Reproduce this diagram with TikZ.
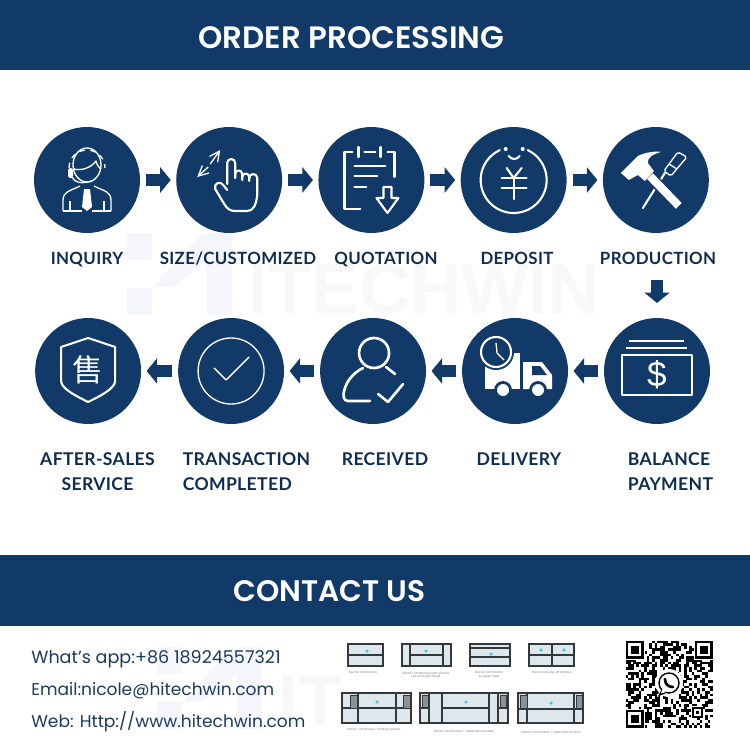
\documentclass[tikz,border=0pt]{standalone}
\usepackage{fontspec}
\setmainfont{Poppins}
\newfontfamily\etqfont[LetterSpace=2]{Lato}
\newfontfamily\titlefont{Poppins SemiBold}
\newfontfamily\cjkfont{Noto Sans CJK SC}
\newfontfamily\marcafont{Liberation Sans}
\usetikzlibrary{positioning,arrows.meta,calc}
\definecolor{cazul}{HTML}{123A68}
\definecolor{cnavy}{HTML}{0F2D50}
\definecolor{ctexto}{HTML}{1B3A5E}
\definecolor{cmarca}{HTML}{F4F6FB}
\definecolor{cmarcat}{HTML}{F8F8F9}
\definecolor{cvidrio}{HTML}{DDE7EC}
\definecolor{cmarco}{HTML}{33383D}
\definecolor{cpanel}{HTML}{8C9196}
\definecolor{ccian}{HTML}{45C8DC}
\definecolor{cpie}{HTML}{7A7F85}
\tikzset{
  banda/.style={rectangle, fill=cazul, inner sep=0pt, minimum width=15cm, anchor=north west},
  titulo/.style={text=white, inner sep=0pt, font=\titlefont\fontsize{17.6}{20}\selectfont},
  paso/.style={circle, fill=cazul, inner sep=0pt, outer sep=0pt, minimum size=2.12cm},
  etq/.style={inner sep=0pt, text=cnavy, align=center, font=\etqfont\bfseries\fontsize{9.6}{14.2}\selectfont,
    text height=7pt, text depth=0pt},
  etqb/.style={inner sep=0pt, text=cnavy, align=center, font=\etqfont\bfseries\fontsize{10}{14.2}\selectfont},
  flecha/.style={-{Triangle[length=0.21cm,width=0.5cm]}, line width=0.24cm, draw=cazul,
    shorten <=0.12cm, shorten >=0.11cm},
  contacto/.style={inner sep=0pt, anchor=west, text=ctexto, font=\fontsize{9.7}{12}\selectfont},
  icono/.style={draw=white, line width=1.2pt, line cap=round, line join=round},
  iconof/.style={draw=white, line width=0.75pt, line join=round},
  vent/.style={draw=cmarco, fill=cvidrio, line width=0.7pt},
  barra/.style={draw=cmarco, line width=0.7pt},
  panel/.style={draw=cmarco, fill=cpanel, line width=0.4pt},
  punto/.style={circle, fill=ccian, inner sep=0pt, minimum size=2pt},
  pie/.style={inner sep=0pt, text=cpie, align=center, font=\fontsize{1.7}{2.2}\selectfont},
  marca/.style={fill=cmarca},
}
\newcommand{\qrfinder}[2]{
  \fill[white] (#1-1,#2-1) rectangle ++(20.5,20.5);
  \fill[black] (#1,#2) rectangle ++(18.5,18.5);
  \fill[white] (#1+2.65,#2+2.65) rectangle ++(13.2,13.2);
  \fill[black] (#1+5.3,#2+5.3) rectangle ++(7.9,7.9);
}
\newcommand{\marcalogo}[2]{
  \fill[marca] (#1,#2) rectangle ++(25,27);
  \fill[marca] (#1,#2+55) rectangle ++(25,27);
  \fill[marca] (#1+80,#2) rectangle ++(25,82);
  \fill[marca] (#1+26,#2+54) -- (#1+73,#2+2) -- (#1+80,#2+2) -- (#1+80,#2+27) -- (#1+46,#2+54) -- cycle;
}
\begin{document}
\begin{tikzpicture}[x=0.02cm,y=-0.02cm]
  \useasboundingbox (0,0) rectangle (750,750);
  \marcalogo{127}{233}
  \node[inner sep=0pt, anchor=west, text=cmarcat, font=\marcafont\bfseries\fontsize{40.5}{41}\selectfont] (wm) at (248,289) {ITECHWIN};
  \marcalogo{157}{647}
  \node[inner sep=0pt, anchor=west, text=cmarcat, font=\marcafont\bfseries\fontsize{40.5}{41}\selectfont] (wmb) at (278,701) {IT};

  \node[banda, minimum height=1.4cm] (bandasup) at (0,0) {};
  \node[banda, minimum height=1.42cm] (bandainf) at (0,555) {};
  \node[titulo] (orden) at (351.5,38) {ORDER PROCESSING};
  \node[titulo, font=\titlefont\fontsize{16.9}{20}\selectfont] (contacto) at (329.5,591) {CONTACT US};

  \node[paso] (inquiry) at (87,180) {};
  \node[paso, right=0.725cm of inquiry] (size) {};
  \node[paso, right=0.725cm of size] (quotation) {};
  \node[paso, right=0.725cm of quotation] (deposit) {};
  \node[paso, right=0.725cm of deposit] (production) {};
  \node[paso] (balance) at (657,371) {};
  \node[paso, left=0.72cm of balance] (delivery) {};
  \node[paso, left=0.72cm of delivery] (received) {};
  \node[paso, left=0.72cm of received] (completed) {};
  \node[paso, left=0.74cm of completed] (aftersales) {};

  \node[etq] (linquiry) at (87,258) {INQUIRY};
  \node[etq] (lsize) at (238,258) {SIZE/CUSTOMIZED};
  \node[etq] (lquotation) at (386,258) {QUOTATION};
  \node[etq] (ldeposit) at (517,258) {DEPOSIT};
  \node[etq] (lproduction) at (658,258) {PRODUCTION};
  \node[etqb] (laftersales) at (97.5,471.5) {AFTER-SALES\\SERVICE};
  \node[etqb, align=left] (lcompleted) at (246.5,471.5) {TRANSACTION\\COMPLETED};
  \node[etqb] (lreceived) at (385,459) {RECEIVED};
  \node[etqb] (ldelivery) at (519,459) {DELIVERY};
  \node[etqb, align=left] (lbalance) at (670.5,471.5) {BALANCE\\PAYMENT};

  \draw[flecha] (inquiry) -- (size);
  \draw[flecha] (size) -- (quotation);
  \draw[flecha] (quotation) -- (deposit);
  \draw[flecha] (deposit) -- (production);
  \draw[flecha, shorten <=0.3cm, shorten >=0.3cm] (lproduction.south -| balance.north) -- (balance.north);
  \draw[flecha] (balance) -- (delivery);
  \draw[flecha] (delivery) -- (received);
  \draw[flecha] (received) -- (completed);
  \draw[flecha] (completed) -- (aftersales);

  \begin{scope}[shift={(inquiry.center)}]
    \draw[iconof] (-24,31) -- (-24,20) .. controls (-24,11) and (-14,10) .. (-7,6);
    \draw[iconof] (24,31) -- (24,20) .. controls (24,11) and (14,10) .. (7,6);
    \draw[iconof] (-24,31) -- (-5,31);
    \draw[iconof] (24,31) -- (5,31);
    \draw[iconof] (0,-15) ellipse[x radius=14, y radius=17];
    \draw[iconof] (-13,-11) .. controls (-6,-9) and (4,-12) .. (9,-19) .. controls (10,-15) and (12,-12) .. (14,-11);
    \draw[iconof, dashed] (-18,-12) arc[start angle=180, end angle=360, radius=18];
    \fill[white, rounded corners=1pt] (-19,-12) rectangle (-14,-2);
    \draw[iconof] (-15,-3) .. controls (-12,3) and (-6,4) .. (5,1);
    \fill[white] (-3,9) -- (3,9) -- (5,27) -- (0,31) -- (-5,27) -- cycle;
    \draw[iconof] (-17,31) -- (-17,21);
    \draw[iconof] (17,31) -- (17,21);
  \end{scope}

  \begin{scope}[shift={(size.center)}]
    \draw[icono] (-2,4) -- (-2,-17) arc[start angle=180, end angle=360, radius=4] -- (6,-2);
    \draw[icono] (6,-6) arc[start angle=180, end angle=360, radius=3.5] -- (13,0);
    \draw[icono] (13,-3) arc[start angle=180, end angle=360, radius=3.5] -- (20,1);
    \draw[icono] (20,-2) arc[start angle=180, end angle=360, radius=4] -- (28,15) .. controls (27,25) and (24,31) .. (18,31) -- (6,31) .. controls (1,31) and (-2,29) .. (-5,24) -- (-14,9) .. controls (-16,4) and (-9,0) .. (-6,5) -- (-2,10);
    \draw[iconof, -{Straight Barb[length=2mm,width=2mm]}] (-19,-16) -- (-9,-30);
    \draw[iconof, -{Straight Barb[length=2mm,width=2mm]}] (-21,-13) -- (-32,-3);
  \end{scope}

  \begin{scope}[shift={(quotation.center)}]
    \draw[icono] (-19,-28) -- (-27,-28) -- (-27,29) -- (-11,29);
    \draw[icono] (16,-28) -- (23,-28) -- (23,-3);
    \draw[icono] (-13,-33) -- (-13,-23);
    \draw[icono] (9,-33) -- (9,-23);
    \draw[icono] (-7,-28) -- (4,-28);
    \draw[icono] (-17,-14) -- (14,-14);
    \draw[icono] (-17,-4) -- (6,-4);
    \draw[icono] (-17,7) -- (-5,7);
    \draw[icono] (12,7) -- (20,7) -- (20,18) -- (27,18) -- (16,33) -- (5,18) -- (12,18) -- cycle;
  \end{scope}

  \begin{scope}[shift={(deposit.center)}]
    \draw[icono] (-65:33) arc[start angle=-65, end angle=245, radius=33];
    \fill[white] (-8,-31) circle[radius=2];
    \fill[white] (9,-31) circle[radius=2];
    \draw[icono] (-5,-24) .. controls (-2,-20) and (3,-20) .. (6,-24);
    \draw[icono] (-7,-12) -- (0,-2) -- (8,-12);
    \draw[icono] (-12,-2) -- (13,-2);
    \draw[icono] (-12,8) -- (13,8);
    \draw[icono] (0,-2) -- (0,19);
  \end{scope}

  \begin{scope}[shift={(production.center)}]
    \draw[icono] (-13,28) -- (9,-7);
    \draw[iconof, rounded corners=1pt] (8,-9) -- (22,-28) -- (31,-23) -- (15,-4) -- cycle;
    \draw[iconof] (13,-16) -- (21,-11);
    \fill[white, draw=cazul, line width=0.8pt] (-10,-1) -- (-3,-8) -- (27,23) -- (20,30) -- cycle;
    \fill[white] (-35,-7) -- (-18,-24) .. controls (-10,-28) and (0,-29) .. (5,-28) .. controls (-3,-26) and (-9,-22) .. (-8,-17) -- (-2,-9) -- (-11,1) -- (-18,-5) -- (-27,0) -- cycle;
  \end{scope}

  \begin{scope}[shift={(balance.center)}]
    \draw[iconof] (-28,-30) -- (27,-30);
    \draw[iconof] (-31,-23) -- (30,-23);
    \draw[iconof] (-35,-16) rectangle (35,24);
    \node[text=white, inner sep=0pt, font=\marcafont\fontsize{20}{22}\selectfont] (dolar) at (0,4) {\$};
  \end{scope}

  \begin{scope}[shift={(delivery.center)}]
    \fill[white] (-30,-18) rectangle (5,18);
    \fill[white] (8,-9) -- (27,-9) -- (37,4) -- (37,18) -- (8,18) -- cycle;
    \fill[cazul] (17,-5) -- (25,-5) -- (32,4) -- (17,4) -- cycle;
    \fill[white, draw=cazul, line width=1.6pt] (-12,19) circle[radius=7.5];
    \fill[white, draw=cazul, line width=1.6pt] (23,19) circle[radius=7.5];
    \fill[cazul] (-19,-19) circle[radius=18];
    \draw[icono, fill=cazul] (-19,-19) circle[radius=15];
    \draw[iconof] (-19,-28) -- (-18,-18) -- (-11,-11);
  \end{scope}

  \begin{scope}[shift={(received.center)}]
    \draw[icono, line width=1.5pt] (1,-18) circle[radius=15];
    \draw[icono, line width=1.5pt] (-3,30) -- (-25,30) .. controls (-30,30) and (-30,24) .. (-29,20) .. controls (-26,8) and (-18,1) .. (-10,-3);
    \draw[icono, line width=1.5pt] (13,-4) -- (22,3);
    \draw[icono, line width=1.5pt] (5,23) -- (15,31) -- (30,13);
  \end{scope}

  \begin{scope}[shift={(completed.center)}]
    \draw[iconof] (0,0) circle[radius=33];
    \draw[iconof] (-17,-3) -- (-5,9) -- (18,-14);
  \end{scope}

  \begin{scope}[shift={(aftersales.center)}]
    \draw[icono] (0,-33) -- (27,-24) -- (27,10) .. controls (27,18) and (10,26) .. (0,31) .. controls (-10,26) and (-27,18) .. (-27,10) -- (-27,-24) -- cycle;
    \node[text=white, inner sep=0pt, font=\cjkfont\fontsize{17.5}{18}\selectfont] (shou) at (0,-1) {售};
  \end{scope}

  \node[contacto, font=\fontsize{10}{12}\selectfont] (whatsapp) at (31,659) {What’s app:+86 18924557321};
  \node[contacto] (email) at (31,691) {Email:nicole@hitechwin.com};
  \node[contacto] (web) at (31,722) {Web: Http://www.hitechwin.com};

  \draw[vent] (348,644) rectangle (383,666);
  \draw[barra] (348,655) -- (383,655);
  \node[punto] (d1) at (367,651) {};
  \node[pie] (p1) at (363,672.5) {Electric Lift Window};

  \draw[vent] (402,644) rectangle (451,666);
  \draw[barra] (410,644) -- (410,666) (443,644) -- (443,666) (410,655) -- (443,655);
  \node[punto] (d2) at (426,651) {};
  \node[pie] (p2) at (426,675) {Electric Lift Window(Left window\\Left and right fixed)};

  \draw[vent] (470,644) rectangle (510,666);
  \draw[barra] (470,648) -- (510,648) (470,657) -- (510,657);
  \node[punto] (d3) at (491,654) {};
  \node[pie] (p3) at (489,675) {Electric Lift Window\\\& Upper Fixed};

  \draw[vent] (529,644) rectangle (574,666);
  \draw[barra] (552,644) -- (552,666) (529,655) -- (574,655);
  \node[punto] (d4a) at (541,650) {};
  \node[punto] (d4b) at (564,650) {};
  \node[pie] (p4) at (552,672.5) {Electric Double Lift Window};

  \draw[vent] (342,693) rectangle (411,723);
  \draw[barra] (358,693) -- (358,723) (396,693) -- (396,723) (342,708) -- (411,708);
  \draw[panel] (350,695) rectangle (357,708);
  \draw[panel] (403,695) rectangle (410,708);
  \node[punto] (d5) at (377,702) {};
  \node[pie] (p5) at (374,730) {Electric Lift Window +Sliding window};

  \draw[vent] (420,693) rectangle (508,723);
  \draw[barra] (429,693) -- (429,723) (442,693) -- (442,723) (489,693) -- (489,723) (498,693) -- (498,723) (420,708) -- (429,708) (442,708) -- (489,708) (498,708) -- (508,708);
  \draw[panel] (422,695) rectangle (428,707);
  \draw[panel] (500,695) rectangle (506,707);
  \node[punto] (d6) at (466,702) {};
  \node[pie] (p6) at (464,731.5) {Electric Lift Window + Casement Window};

  \draw[vent] (518,693) rectangle (583,723);
  \draw[barra] (527,693) -- (527,723) (574,693) -- (574,723) (518,709) -- (583,709);
  \draw[panel] (520,695) rectangle (527,708);
  \draw[panel] (576,695) rectangle (582,708);
  \node[punto] (d7) at (551,703) {};
  \node[pie] (p7) at (551,732) {Electric Lift Window + casement window};

  \fill[white] (623,638) rectangle (715,729);
  \pgfmathsetseed{73}
  \foreach \i in {0,...,32}
    \foreach \j in {0,...,32} {
      \pgfmathrandominteger{\cel}{0}{1}
      \ifnum\cel=1
        \fill[black] ({625.5+\i*2.65},{640.5+\j*2.65}) rectangle ++(2.7,2.7);
      \fi
    }
  \qrfinder{625.5}{640.5}
  \qrfinder{694.5}{640.5}
  \qrfinder{625.5}{709.5}
  \fill[white] (691,706) rectangle ++(12,12);
  \fill[black] (691.5,706.5) rectangle ++(11,11);
  \fill[white] (693.5,708.5) rectangle ++(7,7);
  \fill[black] (695.5,710.5) rectangle ++(3,3);
  \fill[white] (669,683) circle[radius=14];
  \fill[white] (657,697) -- (662,686) -- (668,692) -- cycle;
  \draw[black, line width=0.8pt] (669,683) circle[radius=10];
  \draw[black, line width=0.8pt, fill=white] (662,690) -- (659.5,695) -- (665,693);
  \fill[white] (662.5,689) -- (661,693) -- (665.5,692) -- (666,689) -- cycle;
  \draw[black, line width=1.5pt, line cap=round] (665,679) .. controls (665,684) and (668,687) .. (673,687);
\end{tikzpicture}
\end{document}
